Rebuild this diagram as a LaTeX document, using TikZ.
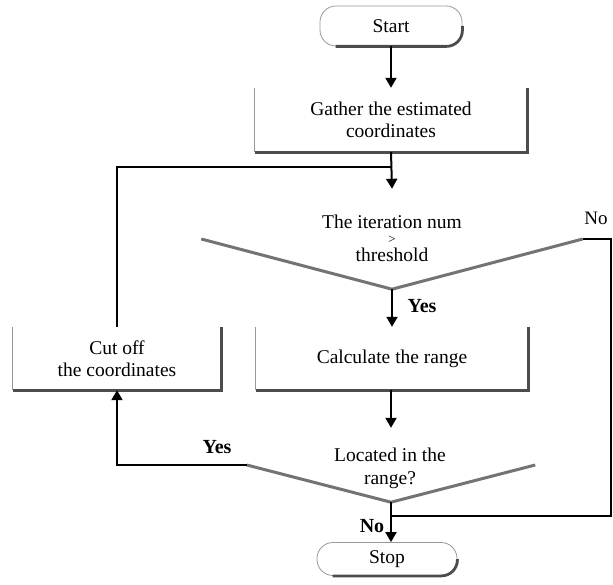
\documentclass[tikz,border=0pt]{standalone}
\usepackage{fontspec}
\setmainfont{Liberation Serif}
\usetikzlibrary{arrows.meta,shapes.geometric}
\begin{document}
\begin{tikzpicture}[x=1pt,y=-1pt,
  lbl/.style={font=\fontsize{19.5}{22}\selectfont, align=center, inner sep=0pt},
  boldlbl/.style={font=\fontsize{20}{22}\selectfont\bfseries, inner sep=0pt},
  plainlbl/.style={font=\fontsize{19}{22}\selectfont, inner sep=0pt},
  procbox/.style={lbl, minimum height=63pt},
  termbox/.style={lbl, draw=black!40, line width=0.8pt, rounded corners=16pt},
  decision/.style={shape=diamond, inner sep=0pt, draw=none},
  conn/.style={line width=2pt, black},
  arr/.style={conn, -{Triangle[width=11pt,length=10pt]}},
  faint/.style={draw=black!40, line width=0.9pt},
  shadeedge/.style={draw=black!70, line width=2.8pt},
  vshape/.style={draw=black!55, line width=3pt, line join=miter},
]
\useasboundingbox (0,0) rectangle (613,585);

% terminals
\node[termbox, minimum width=142pt, minimum height=40pt] (start) at (391,26) {Start};
\node[termbox, minimum width=140pt, minimum height=33pt] (stop) at (387,559) {Stop};
\draw[shadeedge, rounded corners=16pt] ([xshift=16pt]start.south west) -- (start.south east) -- (start.east);
\draw[shadeedge, rounded corners=16pt] ([xshift=16pt]stop.south west) -- (stop.south east) -- (stop.east);

% process boxes
\node[procbox, minimum width=272pt, minimum height=64pt] (gather) at (391,120) {Gather the estimated\\coordinates};
\node[procbox, minimum width=272pt] (calc) at (392,358.5) {Calculate the range};
\node[procbox, minimum width=208pt] (cut) at (117,358.5) {Cut off\\the coordinates};
\foreach \b in {gather,calc,cut}{
  \draw[faint] (\b.north west) -- (\b.south west);
  \draw[shadeedge] (\b.south west) -- (\b.south east) -- (\b.north east);
}

% decisions
\node[decision, minimum width=381pt, minimum height=100pt] (d1) at (392,239) {};
\node[decision, minimum width=288pt, minimum height=74pt] (d2) at (391,465) {};
\draw[vshape] (d1.west) -- (d1.south) -- (d1.east);
\draw[vshape] (d2.west) -- (d2.south) -- (d2.east);

\node[lbl] (d1a) at (392,222) {The iteration num};
\node[font=\fontsize{13}{13}\selectfont, inner sep=0pt] (d1b) at (392,240) {>};
\node[lbl] (d1c) at (392,255) {threshold};
\node[lbl] (d2a) at (390,455) {Located in the};
\node[lbl] (d2b) at (390,480) {range?};

% junction coordinates
\coordinate (j1) at (392,167);
\coordinate (rc) at (611,239);
\coordinate (j2) at (392,516);

% connectors
\draw[arr] (start.south -| gather.north) -- (gather.north);
\draw[arr] (gather.south) -- (d1.north);
\draw[arr] (d1.south) -- (calc.north);
\draw[arr] (calc.south -| d2.north) -- (d2.north);
\draw[arr] (d2.south) -- (d2.south |- stop.north);
\draw[conn] (cut.north) |- (j1);
\draw[arr] (d2.west) -| (cut.south);
\draw[conn] (d1.east) -- (rc) |- (j2);

% branch labels
\node[boldlbl] (y1) at (422,306) {Yes};
\node[boldlbl] (y2) at (217,447) {Yes};
\node[boldlbl] (n2) at (372,526) {No};
\node[plainlbl] (n1) at (596,218) {No};
\end{tikzpicture}
\end{document}
